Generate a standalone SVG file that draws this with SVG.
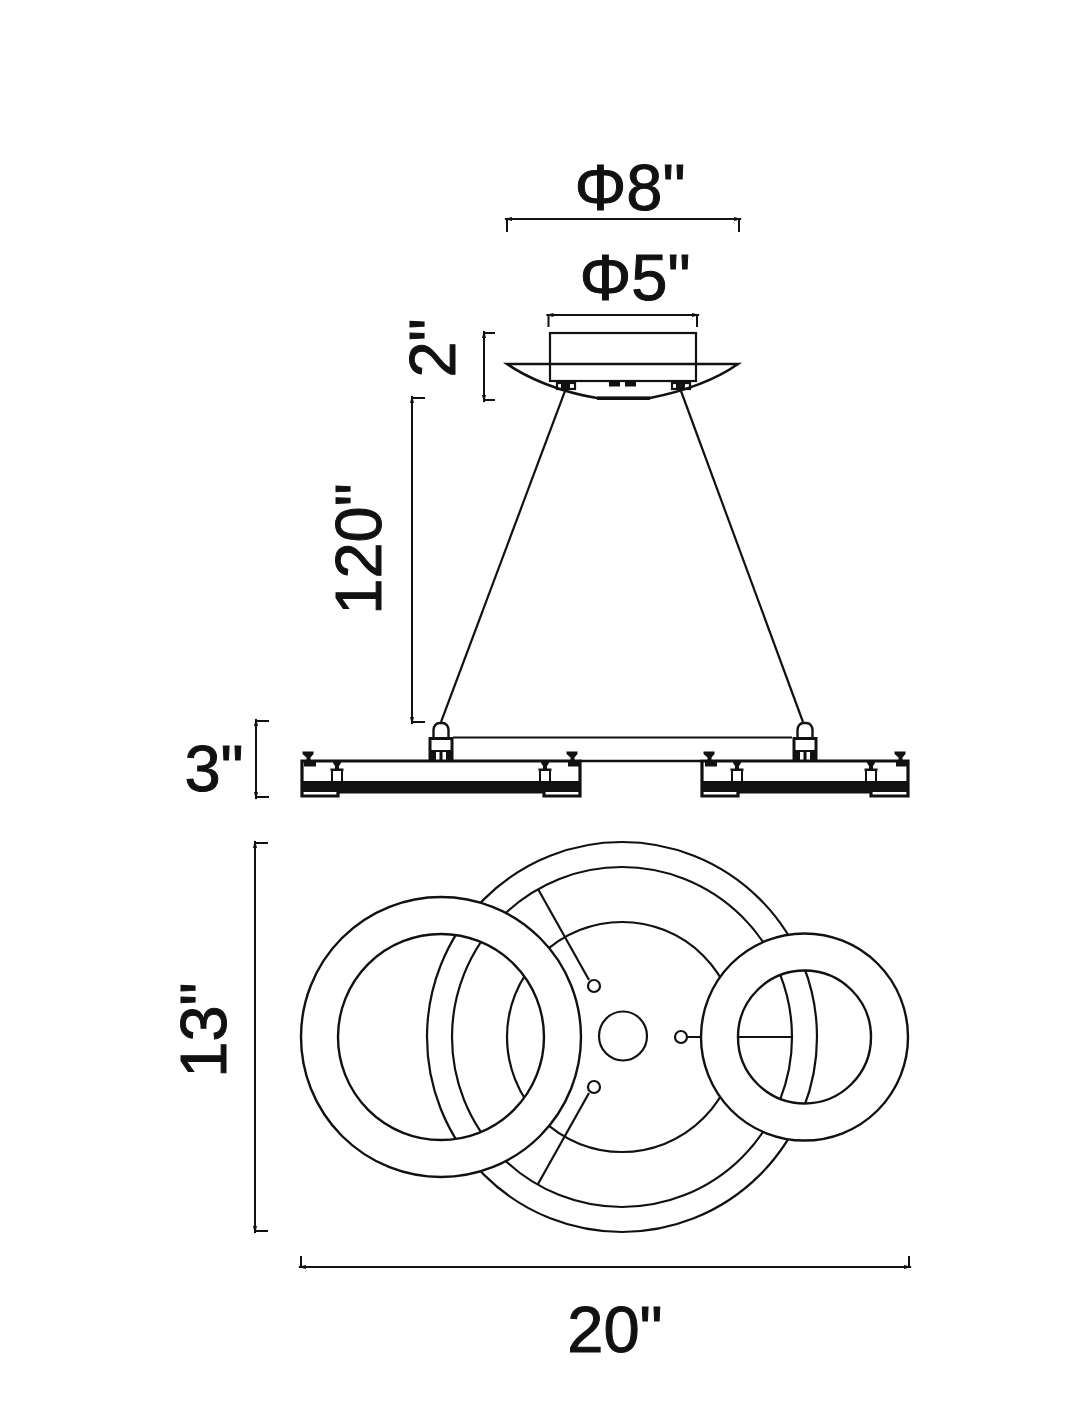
<svg xmlns="http://www.w3.org/2000/svg" width="1074" height="1426" viewBox="0 0 1074 1426">
<defs>
<style>
.l{fill:none;stroke:#111;stroke-width:2.200}
.d{fill:none;stroke:#111;stroke-width:2}
.r{fill:#fff;fill-rule:evenodd;stroke:#111;stroke-width:2.400}
.t{fill:none;stroke:#111;stroke-width:3.200}
.k{fill:#111;stroke:none}
.w{fill:#fff;stroke:#111;stroke-width:2}
text{font-family:"Liberation Sans",Arial,sans-serif;font-size:65px;fill:#111;stroke:#111;stroke-width:1}
</style>
<marker id="tip" viewBox="0 0 10 6" refX="7" refY="3" markerWidth="10" markerHeight="6" markerUnits="userSpaceOnUse" orient="auto-start-reverse">
<path d="M0 1L8 3L0 5Z" fill="#111"/>
</marker>
<g id="screw">
<path class="k" d="M-5.500 -9.500h11v2.500l-3 3.500v4.500h5.500v4.500h-12v-4.500h2.500v-4.500l-4-3.500z"/>
</g>
<g id="bracket">
<path class="k" d="M-4 0h8v2l-2 3v2.500h4.500v2.500h-13v-2.500h4.500v-2.500l-2-3z"/>
<rect class="w" x="-5" y="9" width="10" height="12" style="stroke-width:2"/>
</g>
<g id="hanger">
<path class="t" d="M-7.500 15v-7a6 7 0 0 1 6-7h3a6 7 0 0 1 6 7v7" style="stroke-width:2.400"/>
<path class="k" d="M-12.500 15h25v24h-25zM-9.500 18v10h19v-10zM-5 30v9h3.500v-9zM1.500 30v9h3.500v-9z" fill-rule="evenodd"/>
</g>
</defs>
<rect width="1074" height="1426" fill="#fff"/>

<g id="canopy">
<path class="w" d="M507 364H738C718 378 690 390 650 398H597C560 392 527 378 507 364Z" style="stroke-width:2.600"/>
<rect class="l" x="550" y="333" width="146" height="48"/>
<path class="l" d="M507 364H738"/>
<path class="k" d="M597 396.500H650V400H597Z"/>
<path class="k" d="M609 381h11v5.500h-11zM625 381h11v5.500h-11z"/>
<rect class="l" x="557" y="383" width="18" height="6"/>
<rect class="l" x="672" y="383" width="18" height="6"/>
<path class="k" d="M561 381h9v8h-9zM676 381h9v8h-9z"/>
</g>

<g id="connectors">
<path class="l" d="M565 391L441 722"/>
<path class="l" d="M681 391L803 722"/>
<path class="l" d="M453 737.500H792"/>
<path class="t" d="M580 761H701" style="stroke-width:2.500"/>
</g>

<g id="left-fixture">
<path class="t" d="M302 761H580V796H544V792H338V796H302Z"/>
<rect class="k" x="302" y="781" width="278" height="11"/>
<use href="#screw" x="308" y="761"/>
<use href="#screw" x="572" y="761"/>
<use href="#bracket" x="337" y="761"/>
<use href="#bracket" x="545" y="761"/>
<use href="#hanger" x="441" y="722"/>
</g>

<g id="right-fixture">
<path class="t" d="M702 761H908V796H871V792H738V796H702Z"/>
<rect class="k" x="702" y="781" width="206" height="11"/>
<use href="#screw" x="709" y="761"/>
<use href="#screw" x="900" y="761"/>
<use href="#bracket" x="737" y="761"/>
<use href="#bracket" x="871" y="761"/>
<use href="#hanger" x="805" y="722"/>
</g>

<g id="plan-base">
<circle class="l" cx="622" cy="1037" r="195"/>
<circle class="l" cx="622" cy="1037" r="170"/>
<circle class="l" cx="622" cy="1037" r="115"/>
<ellipse class="l" cx="623" cy="1036" rx="24" ry="24.500"/>
<path class="l" d="M538 889L589 980"/>
<path class="l" d="M538 1184L589 1093"/>
<path class="l" d="M687 1037H792"/>
<circle class="l" cx="594" cy="986" r="6"/>
<circle class="l" cx="594" cy="1087" r="6"/>
<circle class="l" cx="681" cy="1037" r="6"/>
</g>
<g id="plan-left-ring">
<path class="r" d="M301 1037a140 140 0 1 0 280 0a140 140 0 1 0 -280 0ZM338 1037a103 103 0 1 0 206 0a103 103 0 1 0 -206 0Z"/>
</g>
<g id="plan-right-ring">
<path class="r" d="M701 1037a103.500 103.500 0 1 0 207 0a103.500 103.500 0 1 0 -207 0ZM738 1037a66.500 66.500 0 1 0 133 0a66.500 66.500 0 1 0 -133 0Z"/>
</g>

<g id="dimensions">
<path class="d" d="M507 232V220M739 232V220M548.500 327V315M697 327V315M495 333H484M495 400H484M425 398H412M425 722H412M269 721H256M269 797H256M268 843H255M268 1231H255M301 1256V1267M909 1256V1267"/>
<path class="d" marker-start="url(#tip)" marker-end="url(#tip)" d="M505 219H741"/>
<path class="d" marker-start="url(#tip)" marker-end="url(#tip)" d="M546.500 315H699"/>
<path class="d" marker-start="url(#tip)" marker-end="url(#tip)" d="M484 331V402"/>
<path class="d" marker-start="url(#tip)" marker-end="url(#tip)" d="M412 396V724"/>
<path class="d" marker-start="url(#tip)" marker-end="url(#tip)" d="M256 719V799"/>
<path class="d" marker-start="url(#tip)" marker-end="url(#tip)" d="M255 841V1233"/>
<path class="d" marker-start="url(#tip)" marker-end="url(#tip)" d="M299 1267H911"/>
</g>

<g id="labels">
<text x="630" y="210" text-anchor="middle">Φ8"</text>
<text x="635" y="300" text-anchor="middle">Φ5"</text>
<text x="615" y="1352" text-anchor="middle">20"</text>
<text x="214" y="791" text-anchor="middle">3"</text>
<text transform="translate(455 348) rotate(-90)" text-anchor="middle">2"</text>
<text transform="translate(381 549) rotate(-90)" text-anchor="middle">120"</text>
<text transform="translate(226 1030) rotate(-90)" text-anchor="middle">13"</text>
</g>
</svg>
